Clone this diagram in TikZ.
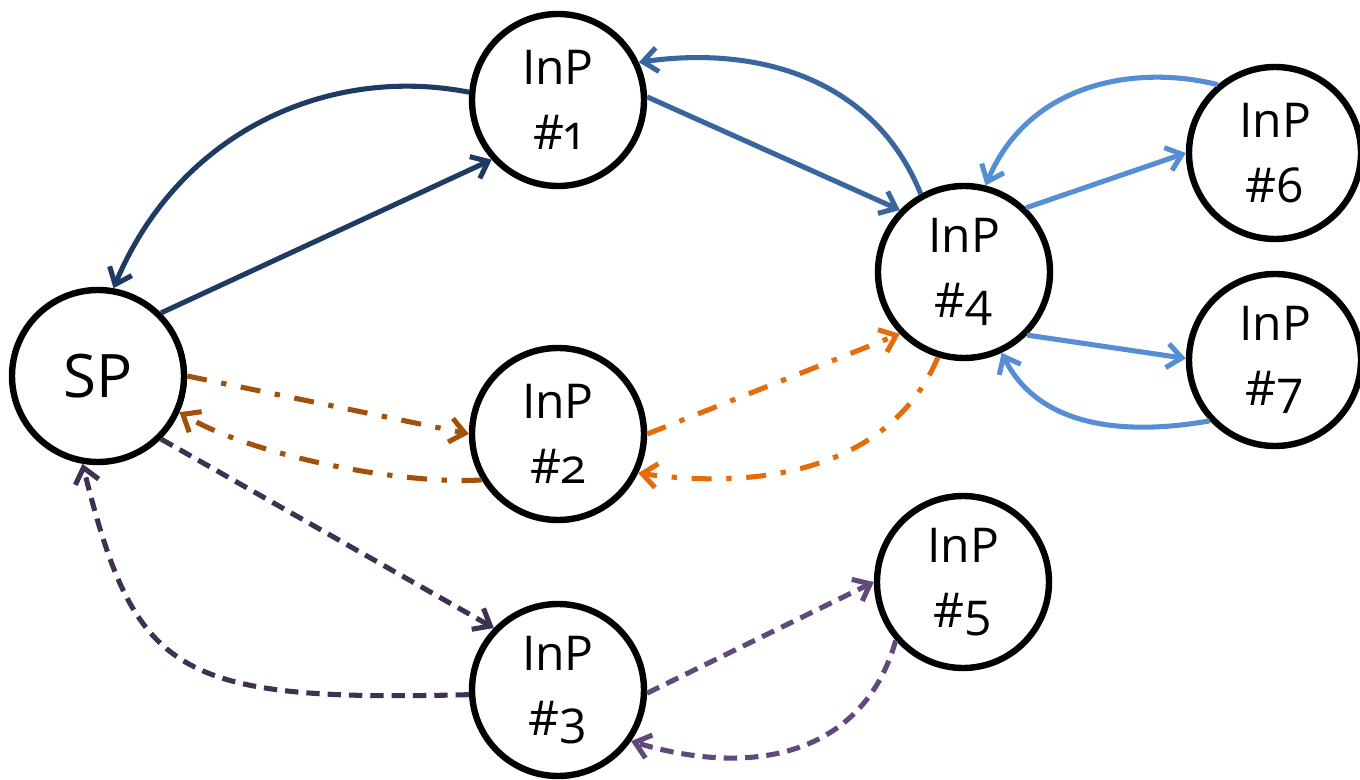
\documentclass[tikz,border=0pt]{standalone}
\usepackage{fontspec}
\setmainfont{Open Sans}[Numbers=OldStyle]
\usetikzlibrary{arrows.meta}
\definecolor{cnavy}{HTML}{1F3A63}
\definecolor{cblue}{HTML}{3A669F}
\definecolor{clight}{HTML}{558ED5}
\definecolor{cbrown}{HTML}{A0520D}
\definecolor{corange}{HTML}{E46C0A}
\definecolor{cdpurple}{HTML}{403152}
\definecolor{cpurple}{HTML}{604A7B}
\tikzset{
  party/.style={circle, draw=black, line width=4.8pt, minimum size=129pt, inner sep=0pt,
    align=center, font=\fontsize{36}{48.75}\selectfont},
  link/.style={line width=3.8pt, -{Straight Barb[length=11pt,width=18pt]}},
  dashdot/.style={dash pattern=on 15pt off 11pt on 4pt off 11pt},
  dsh/.style={dash pattern=on 10pt off 6pt},
}
\begin{document}
\begin{tikzpicture}[x=0.75pt,y=-0.75pt]
\useasboundingbox (0,0) rectangle (1360,780);
\node[party, font=\fontsize{45}{50}\selectfont] (sp) at (98,376) {SP};
\node[party] (i1) at (558,100) {InP\\\#1};
\node[party] (i2) at (558,434) {InP\\\#2};
\node[party] (i3) at (558,690) {InP\\\#3};
\node[party] (i4) at (964,272) {InP\\\#4};
\node[party] (i5) at (963,582) {InP\\\#5};
\node[party] (i6) at (1275,153) {InP\\\#6};
\node[party] (i7) at (1275,360) {InP\\\#7};
\draw[link, cnavy] (sp.45) -- (i1.222);
\draw[link, cnavy] (i1.175) .. controls (330,65) and (180,130) .. (sp.80);
\draw[link, cblue] (i1.2) -- (i4.136);
\draw[link, cblue] (i4.119) .. controls (875,80) and (760,45) .. (i1.25);
\draw[link, clight] (i4.46) -- (i6.180);
\draw[link, clight] (i6.130) .. controls (1140,65) and (1030,80) .. (i4.76);
\draw[link, clight] (i4.315) -- (i7.179);
\draw[link, clight] (i7.223) .. controls (1130,435) and (1040,430) .. (i4.295);
\draw[link, cbrown, dashdot] (sp.0) -- (i2.180);
\draw[link, cbrown, dashdot] (i2.211) .. controls (400,485) and (250,455) .. (sp.336);
\draw[link, corange, dashdot] (i2.0) -- (i4.224);
\draw[link, corange, dashdot] (i4.253) .. controls (890,470) and (760,490) .. (i2.334);
\draw[link, cdpurple, dsh] (sp.315) -- (i3.136);
\draw[link, cdpurple, dsh] (i3.183) .. controls (175,702) and (135,675) .. (sp.260);
\draw[link, cpurple, dsh] (i3.358) -- (i5.180);
\draw[link, cpurple, dsh] (i5.221) .. controls (865,750) and (760,780) .. (i3.325);
\end{tikzpicture}
\end{document}
